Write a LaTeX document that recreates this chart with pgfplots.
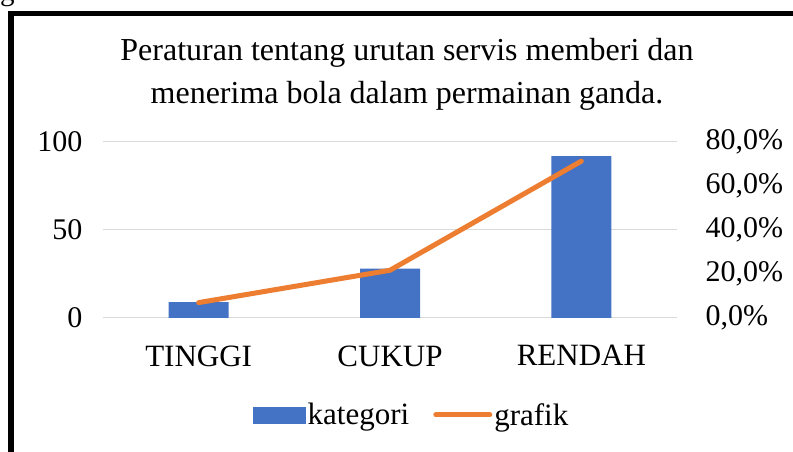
\documentclass[border=0pt]{standalone}
\usepackage{pgfplots}
\pgfplotsset{compat=1.18}
\usepackage{fontspec}
\setmainfont{Liberation Serif}
\definecolor{barblue}{HTML}{4472C4}
\definecolor{lineorange}{HTML}{ED7D31}
\definecolor{gridgray}{HTML}{D9D9D9}
\begin{document}
\begin{tikzpicture}[x=1bp,y=1bp]
\useasboundingbox (0,0) rectangle (793,452);
\fill[white] (0,0) rectangle (793,452);
% cropped character above frame
\node[anchor=base west,inner sep=0pt,font=\fontsize{29bp}{34bp}\selectfont] at (0,451) {g};
% frame
\draw[line width=5.5bp] (11,0) -- (11,438.5) -- (800,438.5);
% title
\node[align=center,font=\fontsize{32bp}{43bp}\selectfont] at (407,378) {Peraturan tentang urutan servis memberi dan\\menerima bola dalam permainan ganda.};
\begin{axis}[
  at={(103bp,134bp)}, anchor=south west,
  scale only axis, width=574bp, height=176bp,
  xmin=-0.5, xmax=2.5, ymin=0, ymax=100,
  axis line style={draw=none},
  xtick={0,1,2}, xticklabels={TINGGI,CUKUP,RENDAH},
  ytick={0,50,100}, yticklabels={0,50,100},
  major tick length=0pt,
  ymajorgrids, grid style={gridgray, line width=1bp},
  tick label style={font=\fontsize{30bp}{34bp}\selectfont},
  xticklabel style={yshift=-24bp, font=\fontsize{31bp}{34bp}\selectfont},
  yticklabel style={xshift=-17bp},
  ybar, bar width=60bp,
  clip=false,
]
\addplot[fill=barblue, draw=none] coordinates {(0,9) (1,28) (2,92)};
\end{axis}
\begin{axis}[
  at={(103bp,134bp)}, anchor=south west,
  scale only axis, width=574bp, height=176bp,
  xmin=-0.5, xmax=2.5, ymin=0, ymax=80,
  axis line style={draw=none},
  axis y line*=right,
  xtick=\empty,
  ytick={0,20,40,60,80}, yticklabels={0{,}0\%,20{,}0\%,40{,}0\%,60{,}0\%,80{,}0\%},
  major tick length=0pt,
  tick label style={font=\fontsize{30bp}{34bp}\selectfont},
  yticklabel style={xshift=25bp},
  clip=false,
  legend style={at={(0.538,-0.551)}, anchor=center, draw=none, fill=none,
    legend columns=2, font=\fontsize{31bp}{34bp}\selectfont,
    /tikz/every even column/.append style={column sep=22bp}},
  legend cell align=left,
]
\addlegendimage{legend image code/.code={\fill[barblue] (0bp,-8bp) rectangle (52bp,8bp);}}
\addlegendentry{kategori}
\addplot[lineorange, line width=5bp, line cap=round, line join=round,
  legend image code/.code={\draw[lineorange, line width=5bp, line cap=round] (0bp,0bp) -- (54bp,0bp);}]
  coordinates {(0,7.0) (1,21.7) (2,71.3)};
\addlegendentry{grafik}
\end{axis}
\end{tikzpicture}
\end{document}
